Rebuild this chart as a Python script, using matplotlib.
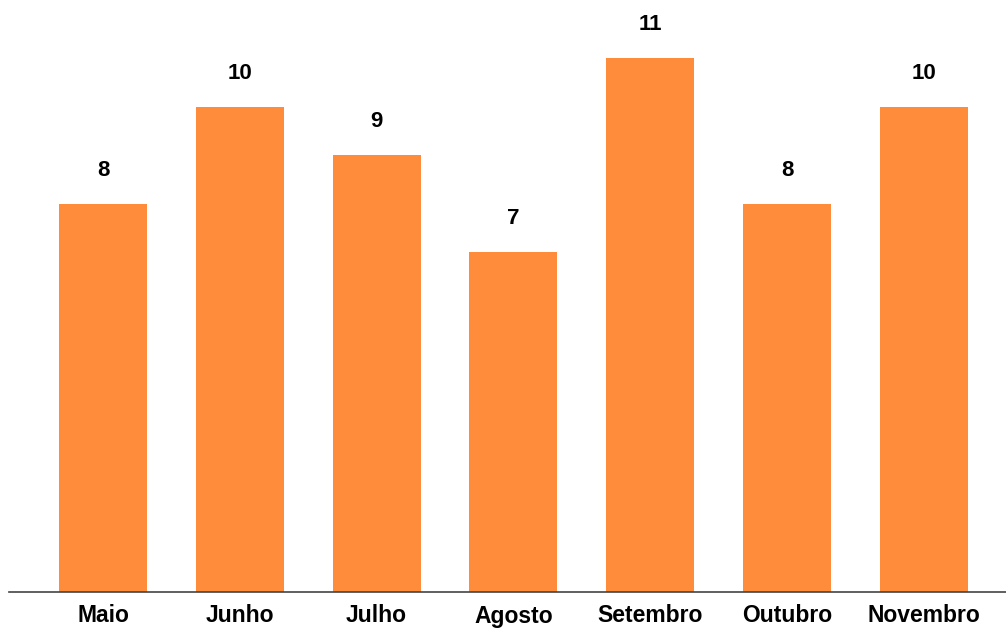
import matplotlib.pyplot as plt

months = ["Maio", "Junho", "Julho", "Agosto", "Setembro", "Outubro", "Novembro"]
values = [8, 10, 9, 7, 11, 8, 10]

plt.rcParams["font.family"] = ["Liberation Sans", "DejaVu Sans"]

fig = plt.figure(figsize=(10.06, 6.30), dpi=100)
ax = fig.add_axes([9 / 1006, 38 / 630, 997 / 1006, 592 / 630])

x = range(len(months))
bars = ax.bar(x, values, width=0.643, color="#FF8C3B")

for b, v in zip(bars, values):
    ax.annotate(str(v), (b.get_x() + b.get_width() / 2, v),
                xytext=(0, 16.5), textcoords="offset points",
                ha="center", va="bottom", fontsize=16, fontweight="bold")

ax.set_xlim(-0.687, 6.6)
ax.set_ylim(0, 12.2)
ax.set_xticks(list(x))
ax.set_xticklabels(months, fontsize=16.5, fontweight="bold")
ax.tick_params(axis="x", length=0, pad=9)
ax.set_yticks([])
for s in ["top", "right", "left"]:
    ax.spines[s].set_visible(False)
ax.spines["bottom"].set_color("#444444")
ax.spines["bottom"].set_linewidth(1.2)

fig.savefig("out.png", dpi=100)
